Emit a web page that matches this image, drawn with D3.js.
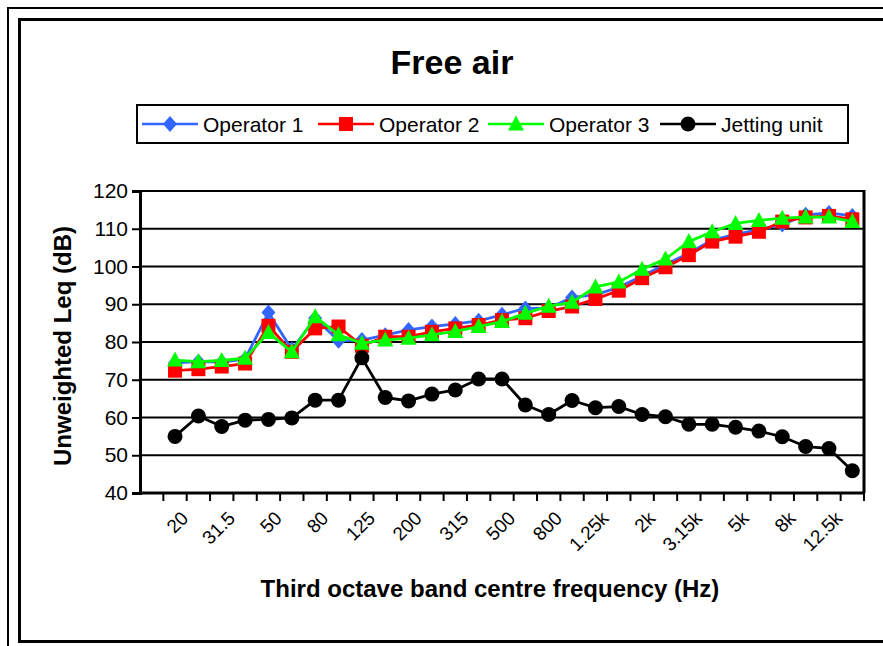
<!DOCTYPE html>
<html><head><meta charset="utf-8">
<script src="https://cdn.jsdelivr.net/npm/d3@7"></script>
<style>
html,body{margin:0;padding:0;background:#fff;}
svg{display:block;font-family:"Liberation Sans",Arial,sans-serif;}
</style></head>
<body>
<script>
const bands = ["", "20","25","31.5","40","50","63","80","100","125","160","200","250","315","400","500","630","800","1k","1.25k","1.6k","2k","2.5k","3.15k","4k","5k","6.3k","8k","10k","12.5k","16k"];
const shownLabels = ["20","31.5","50","80","125","200","315","500","800","1.25k","2k","3.15k","5k","8k","12.5k"];
const operator1 = [74.5,74.8,74.7,75.5,87.8,78.0,86.3,80.3,80.5,81.8,83.2,84.1,84.8,85.6,87.2,88.9,89.0,91.8,92.5,94.5,97.5,100.5,103.5,107.0,108.5,109.8,111.1,113.7,114.2,113.4];
const operator2 = [72.4,72.8,73.5,74.3,84.3,77.4,83.6,84.1,79.0,81.4,81.4,82.7,83.6,84.5,85.8,86.3,88.2,89.4,91.4,93.6,96.9,99.8,103.0,106.6,107.9,109.2,111.9,113.0,113.4,112.5];
const operator3 = [75.2,74.8,75.1,75.7,82.5,77.4,86.7,81.9,79.7,80.5,81.0,81.9,82.8,84.1,85.4,87.6,89.5,90.5,94.6,95.9,99.3,102.0,106.6,109.2,111.4,112.2,112.8,113.1,113.1,111.9];
const jetting = [55.0,60.4,57.6,59.3,59.5,59.9,64.6,64.6,75.8,65.3,64.4,66.2,67.3,70.2,70.2,63.3,60.8,64.5,62.6,62.9,60.8,60.2,58.2,58.2,57.4,56.4,54.9,52.3,51.8,45.9];
const yTicks = [40,50,60,70,80,90,100,110,120];
const seriesNames = ["Operator 1","Operator 2","Operator 3","Jetting unit"];
const seriesColors = ["#3366FF","#FF0000","#00FF00","#000000"];
const seriesData = [operator1, operator2, operator3, jetting];

// marker shapes (custom symbol types)
const diamond = {draw(ctx){ ctx.moveTo(0,-8); ctx.lineTo(7,0); ctx.lineTo(0,8); ctx.lineTo(-7,0); ctx.closePath(); }};
const square = {draw(ctx){ ctx.rect(-7,-7,14,14); }};
const triangle = {draw(ctx){ ctx.moveTo(0,-8.5); ctx.lineTo(8,6.5); ctx.lineTo(-8,6.5); ctx.closePath(); }};
const circle = {draw(ctx){ ctx.moveTo(7.5,0); ctx.arc(0,0,7.5,0,2*Math.PI); }};
const seriesShapes = [diamond, square, triangle, circle];

const W = 883, H = 646;
const svg = d3.select("body").append("svg").attr("width", W).attr("height", H);
svg.append("rect").attr("width",W).attr("height",H).attr("fill","#fff");

// frames
svg.append("rect").attr("x",8).attr("y",8).attr("width",W+20).attr("height",H+20)
  .attr("fill","none").attr("stroke","#000").attr("stroke-width",2);
svg.append("rect").attr("x",19.5).attr("y",19.5).attr("width",W+20).attr("height",622)
  .attr("fill","none").attr("stroke","#000").attr("stroke-width",3);

const L = 140, R = 864, T = 191, B = 493;
const x = d3.scaleBand().domain(bands).range([L, R]).padding(0);
const y = d3.scaleLinear().domain([40,120]).range([B, T]);

// gridlines
svg.append("g").selectAll("line").data(yTicks.filter(v=>v>40)).join("line")
  .attr("x1",L).attr("x2",R).attr("y1",d=>y(d)).attr("y2",d=>y(d))
  .attr("stroke","#000").attr("stroke-width",2);

// plot border right
svg.append("line").attr("x1",R).attr("x2",R).attr("y1",T-1).attr("y2",B)
  .attr("stroke","#000").attr("stroke-width",3);

// y axis
const yAxis = d3.axisLeft(y).tickValues(yTicks).tickSize(8).tickPadding(4);
const gy = svg.append("g").attr("transform",`translate(${L},0)`).call(yAxis);
gy.select(".domain").attr("stroke","#000").attr("stroke-width",3);
gy.selectAll(".tick line").attr("stroke","#000").attr("stroke-width",2);
gy.selectAll("text").attr("font-size",21).attr("fill","#000").attr("font-family","Liberation Sans, Arial, sans-serif");

// x axis line and ticks
const xAxis = d3.axisBottom(x).tickValues(shownLabels).tickSize(0).tickPadding(0);
const gx = svg.append("g").attr("transform",`translate(0,${B})`).call(xAxis);
gx.select(".domain").remove();
gx.selectAll(".tick text")
  .attr("font-size",19).attr("fill","#000").attr("font-family","Liberation Sans, Arial, sans-serif")
  .attr("text-anchor","end")
  .attr("transform","translate(5,17) rotate(-45)")
  .attr("dy","0.7em").attr("dx","0");
svg.append("line").attr("x1",L-1).attr("x2",R+1).attr("y1",B).attr("y2",B).attr("stroke","#000").attr("stroke-width",3);
svg.append("g").selectAll("line").data(bands.slice(1).concat(["__end"])).join("line")
  .attr("x1",d=> d==="__end"? R : x(d)).attr("x2",d=> d==="__end"? R : x(d))
  .attr("y1",B).attr("y2",B+8).attr("stroke","#000").attr("stroke-width",2);

// series
const cx = (i) => x(bands[i+1]) + x.bandwidth()/2;
seriesData.forEach((vals, s) => {
  const line = d3.line().x((d,i)=>cx(i)).y(d=>y(d));
  svg.append("path").datum(vals).attr("d", line).attr("fill","none")
    .attr("stroke", seriesColors[s]).attr("stroke-width", 2.8).attr("stroke-linejoin","round");
  svg.append("g").selectAll("path").data(vals).join("path")
    .attr("d", d3.symbol().type(seriesShapes[s]))
    .attr("transform",(d,i)=>`translate(${cx(i)},${y(d)})`)
    .attr("fill", seriesColors[s]);
});

// title
svg.append("text").attr("x",452).attr("y",74).attr("text-anchor","middle")
  .attr("font-size",34).attr("font-weight","bold").text("Free air");

// axis titles
svg.append("text").attr("transform","translate(71,346) rotate(-90)").attr("text-anchor","middle")
  .attr("font-size",24).attr("font-weight","bold").text("Unweighted Leq (dB)");
svg.append("text").attr("x",490).attr("y",597).attr("text-anchor","middle")
  .attr("font-size",24).attr("font-weight","bold").text("Third octave band centre frequency (Hz)");

// legend
svg.append("rect").attr("x",137).attr("y",105).attr("width",711).attr("height",38)
  .attr("fill","#fff").attr("stroke","#000").attr("stroke-width",2);
const legX = [142, 318, 488, 660];
const lg = svg.append("g").selectAll("g").data(seriesNames).join("g")
  .attr("transform",(d,i)=>`translate(${legX[i]},124)`);
lg.append("line").attr("x1",0).attr("x2",56).attr("y1",0).attr("y2",0)
  .attr("stroke",(d,i)=>seriesColors[i]).attr("stroke-width",2.5);
lg.append("path").attr("d",(d,i)=>d3.symbol().type(seriesShapes[i])())
  .attr("transform","translate(28,0)").attr("fill",(d,i)=>seriesColors[i]);
lg.append("text").attr("x",61).attr("y",7.5).attr("font-size",21).text(d=>d);
</script>
</body></html>
